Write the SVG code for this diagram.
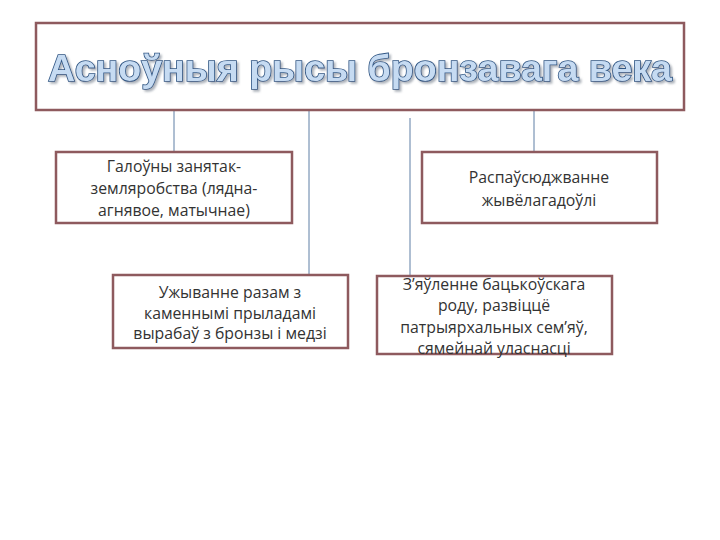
<svg xmlns="http://www.w3.org/2000/svg" width="720" height="540" viewBox="0 0 720 540">
<defs>
<filter id="sh" x="-5%" y="-30%" width="110%" height="160%">
<feDropShadow dx="2" dy="2" stdDeviation="0.8" flood-color="#8a939e" flood-opacity="0.7"/>
</filter>
</defs>
<style>
.box{fill:#ffffff;stroke:#8e5a5e;stroke-width:2.5}
.conn{stroke:#5f7fa5;stroke-width:1;fill:none}
.t{font-family:"Open Sans","Liberation Sans",sans-serif;font-size:15.8px;fill:#333333;text-anchor:middle}
.title{font-family:"Liberation Sans",Arial,sans-serif;font-weight:bold;font-size:37px;fill:#c6dbf2;stroke:#2f5583;stroke-width:1.6;text-anchor:middle;paint-order:stroke;filter:url(#sh)}
</style>
<rect width="720" height="540" fill="#ffffff"/>
<g id="connectors">
<line class="conn" x1="174" y1="111" x2="174" y2="151"/>
<line class="conn" x1="309" y1="111" x2="309" y2="275"/>
<line class="conn" x1="410" y1="118" x2="410" y2="276"/>
<line class="conn" x1="534" y1="111" x2="534" y2="151"/>
</g>
<g id="title">
<rect class="box" x="36" y="23" width="648" height="87"/>
<text class="title" x="360" y="81" textLength="624" lengthAdjust="spacingAndGlyphs">Асноўныя рысы бронзавага века</text>
</g>
<g id="node1">
<rect class="box" x="56" y="152" width="236" height="71"/>
<text class="t" x="174" y="172">Галоўны занятак-</text>
<text class="t" x="174" y="194">земляробства (лядна-</text>
<text class="t" x="174" y="216">агнявое, матычнае)</text>
</g>
<g id="node2">
<rect class="box" x="422" y="152" width="235" height="71"/>
<text class="t" x="539" y="183">Распаўсюджванне</text>
<text class="t" x="539" y="206">жывёлагадоўлі</text>
</g>
<g id="node3">
<rect class="box" x="113" y="275" width="235" height="73"/>
<text class="t" x="230" y="298">Ужыванне разам з</text>
<text class="t" x="230" y="319">каменнымі прыладамі</text>
<text class="t" x="230" y="339">вырабаў з бронзы і медзі</text>
</g>
<g id="node4">
<rect class="box" x="377" y="276" width="235" height="78"/>
<text class="t" x="494" y="290">З’яўленне бацькоўскага</text>
<text class="t" x="494" y="311">роду, развіццё</text>
<text class="t" x="494" y="333">патрыярхальных сем’яў,</text>
<text class="t" x="494" y="354">сямейнай уласнасці</text>
</g>
</svg>
